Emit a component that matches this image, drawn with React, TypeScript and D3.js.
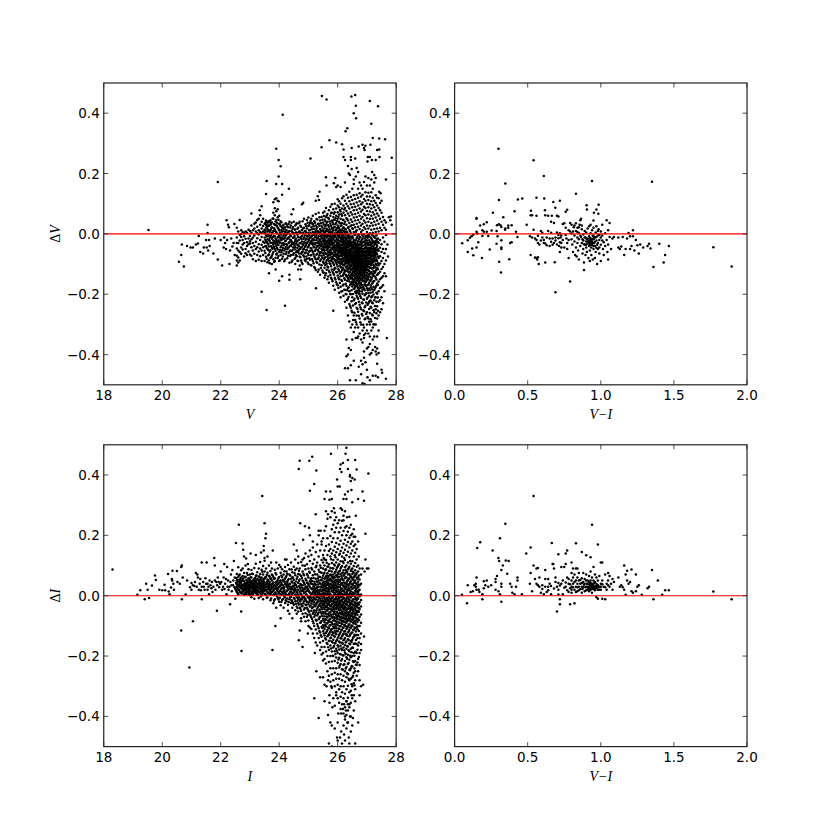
import React from "react";
import * as d3 from "d3";

const xTicksMag = [18, 20, 22, 24, 26, 28];
const xTicksColor = [0, 0.5, 1, 1.5, 2];
const yTicks = [-0.4, -0.2, 0, 0.2, 0.4];

// [V, dV] isolated stars, flat pairs
const vSparse = [19.53,.013,20.57,-.092,20.65,-.07,20.67,-.035,20.74,-.108,20.85,-.04,20.97,-.045,21.05,-.045,21.15,-.035,21.22,-.032,21.25,-.007,21.3,-.06,21.4,-.065,21.42,-.045,21.5,-.02,21.52,-.045,21.55,.03,21.55,.003,21.57,-.055,21.6,-.02,21.62,-.04,21.75,-.065,21.8,-.015,21.9,.172,21.9,-.085,22.0,-.02,22.05,-.105,22.1,-.045,22.15,-.03,22.2,.045,22.25,.03,22.3,-.1,22.12,-.012,22.18,-.05,22.22,-.02,22.28,.022,22.32,-.055,22.36,-.015,22.4,-.042,22.44,-.03,22.47,.033,22.48,-.07,
23.9,.282,23.98,.245,24.05,.224,23.98,.19,24.1,.165,23.9,.165,24.33,.15,23.57,.175,23.55,.132,24.12,.395,24.1,.13,23.85,.115,23.9,.118,23.95,.11,23.8,.105,23.98,.108,23.4,.092,23.33,.078,23.05,.068,24.48,.082,24.78,.098,24.82,.103,25.07,.25,25.38,.14,25.32,.125,25.25,.11,25.36,.112,24.42,.065,
23.4,-.192,23.57,-.252,24.2,-.238,25.26,-.18,25.85,-.255,24.0,-.155,24.1,-.14,24.35,-.135,24.35,-.152,24.72,-.15,24.65,-.118,24.75,-.118,23.88,-.118,23.65,-.13,
25.46,.457,25.62,.445,26.47,.455,26.6,.46,26.62,.425,26.55,.4,26.63,.383,27.1,.44,27.38,.423,27.15,.365,26.27,.34,26.33,.35,25.45,.287,25.72,.31,25.95,.303,26.15,.297,26.2,.28,26.2,.255,26.25,.245,26.48,.285,26.45,.255,26.45,.245,26.6,.25,26.72,.29,26.85,.295,26.9,.285,26.92,.278,26.95,.292,27.12,.295,27.2,.318,27.42,.316,27.62,.314,27.35,.278,27.42,.28,27.03,.255,27.1,.255,27.02,.24,27.17,.245,27.3,.245,27.43,.255,27.85,.252,27.65,.18,27.75,.055,27.8,.045,27.85,.03,27.82,.058,27.7,-.035,27.72,-.075,27.68,-.345,27.65,-.48,25.6,.188,25.62,.16,25.87,.168,25.92,.185,25.95,.155,26.0,.16,26.1,.155,26.25,.17,26.35,.225,26.38,.2,26.42,.195,26.48,.215,26.55,.18,26.62,.19,26.65,.218,26.7,.205,27.18,.205,27.25,.195,27.3,.185,27.42,.14,27.47,.135,27.5,.11,
26.25,-.445,26.35,-.445,26.42,-.485,26.45,-.435,26.55,-.42,26.62,-.485,26.72,-.44,26.85,-.495,26.92,-.497,26.8,-.465,27.0,-.45,27.02,-.475,27.1,-.485,27.2,-.47,27.3,-.47,27.38,-.475,27.5,-.45,27.52,-.46,27.35,-.43,26.8,-.42,26.9,-.41,26.3,-.405,26.35,-.4,26.3,-.35,26.38,-.378,26.45,-.385,26.5,-.35,26.62,-.345,26.68,-.345,26.85,-.36,26.9,-.335,27.0,-.38,27.05,-.375,27.1,-.365,27.2,-.385,27.3,-.39,27.33,-.4,27.4,-.395,27.2,-.35,27.25,-.34,27.35,-.34,26.95,-.425,26.85,-.432,26.9,-.39,27.1,-.4,27.15,-.395,27.28,-.375,27.35,-.38];

// dV lists, one per V column
const vColumns = [
[22.55,[-.03,-.048,-.072,.02,-.105,-.088,-.012]],[22.6,[-.055,-.095,-.03,.008,-.078]],[22.65,[-.022,-.06,.046,-.088,-.004]],[22.7,[-.01,-.045,.0,-.066,.012]],[22.75,[-.035,-.052,.006,-.02]],[22.8,[-.008,.002,-.03,-.075]],[22.85,[-.05,-.016,.008,-.064]],[22.9,[-.028,.004,-.04,-.07]],[22.95,[-.015,-.058,.014,-.034]],[23.0,[-.007,-.032,-.068,.01,-.024]],[23.05,[-.044,-.018,.028,-.072,.004]],[23.1,[-.03,.012,-.055,-.012,-.084]],[23.15,[-.005,-.04,.018,-.066,.034]],[23.2,[-.026,.008,-.05,.038,-.09]],[23.25,[-.014,-.044,.024,-.07,.046,.002]],[23.3,[-.034,.012,-.058,-.002,.05,-.086]],[23.35,[-.02,.03,-.048,.006,-.074,.062]],[23.4,[-.01,-.036,.018,-.09,.04,-.055,.003]],[23.45,[-.026,.026,-.07,.008,-.044,.05]],[23.5,[-.012,.034,-.056,.002,-.09,-.03,.014]],[23.55,[-.04,.02,-.004,-.076,.044,-.024,.03]],[23.6,[-.018,.008,-.05,.036,-.094,-.03,.016]],[23.65,[-.006,-.042,.026,-.068,.042,-.02,-.088]],[23.7,[-.03,.012,-.054,.03,-.01,-.08,.045]],[23.75,[-.016,.022,-.046,-.072,.004,-.1,.038]],[23.8,[-.036,.01,-.06,.05,-.022,-.084,.07]],[23.85,[-.008,.03,-.05,-.028,.062,-.09,.014,.085]],[23.9,[-.04,.006,.046,-.02,-.068,.075,.028]],[23.95,[-.012,.02,-.052,.055,-.034,.082,-.08]],[24.0,[-.026,.012,-.06,.034,-.004,-.09,.06]],[24.05,[-.016,.025,-.044,.002,-.07,.042]],[24.1,[-.032,.008,-.054,.02,-.012,-.082]],[24.15,[-.006,-.038,.016,-.066,.03]],[24.2,[-.024,.006,-.05,-.012,-.085,.022]],[24.25,[-.034,.012,-.06,-.002,.032]],[24.3,[-.014,-.046,.022,-.072,.004]],[24.35,[-.028,.01,-.058,-.096,.04]],[24.4,[-.008,-.04,.028,-.07,-.02]],[24.45,[-.03,.016,-.054,-.088,.006]],[24.5,[-.012,.04,-.064,-.034,.002]],[24.55,[-.044,.014,-.02,-.08,.028,-.1]],[24.6,[-.026,.004,-.056,.035,-.074]],[24.65,[-.01,-.036,.02,-.09,-.06]],[24.7,[-.03,.008,-.05,.04,-.075,-.105]],[24.75,[-.016,.024,-.044,-.066,-.088]],[24.8,[-.034,.004,.042,-.058,-.1]],[24.85,[-.012,-.05,.02,-.076,-.028,.05]],[24.9,[-.04,.01,-.02,-.062,.032,-.09]],[24.95,[-.006,-.03,.046,-.054,-.082,.018]],[25.0,[-.018,.026,-.042,-.07,.004,-.1,.054]],[25.05,[-.032,.012,-.056,.036,-.012,-.086]],[25.1,[-.008,-.048,.022,-.07,.05,-.026,-.105]],[25.15,[-.036,.006,-.016,-.06,.032,-.09,.06]],[25.2,[-.02,.016,-.044,-.074,.042,-.004,-.11]],[25.25,[-.03,.01,-.052,.028,-.01,-.084,.066,-.12]],[25.3,[-.014,.022,-.04,-.066,.048,-.096,.002]],[25.35,[-.026,.006,-.058,.034,-.008,-.078,.07,-.118]],[25.4,[-.038,.016,-.018,-.064,.044,-.09,.002,-.135]],[25.45,[-.01,-.05,.026,-.03,-.072,.056,-.104,.008]],[25.5,[-.022,.012,-.044,.038,-.064,-.092,-.002,-.128,.07]],
[25.55,[-.034,.018,-.012,-.056,.048,-.08,.002,-.112,.074,-.145,-.024]],[25.6,[-.006,-.04,.03,-.066,.056,-.024,-.094,.01,-.13,.086]],[25.65,[-.028,.014,-.05,.04,-.076,-.008,-.108,.066,-.15,-.036]],[25.7,[-.016,.024,-.042,-.062,.05,.004,-.09,-.122,.078,-.03,-.162]],[25.75,[-.036,.008,-.02,-.054,.034,-.07,.06,-.1,-.136,.09,-.004]],[25.8,[-.01,-.046,.02,-.066,.044,-.028,-.084,.07,-.118,.002,-.15,.098]],[25.85,[-.03,.012,-.052,.032,-.016,-.074,.056,-.098,-.13,.082,-.172,-.04]],[25.9,[-.008,-.038,.024,-.06,.046,-.022,-.086,.072,-.112,.002,-.145,.1,-.185]],[25.95,[-.026,.014,-.05,.036,-.07,-.012,-.096,.06,-.126,.084,-.16,-.04]],[26.0,[-.018,.006,-.044,.028,-.064,.05,-.03,-.082,.072,-.108,.094,-.138,-.004,-.17,.115]],[26.05,[-.034,.018,-.056,.04,-.01,-.076,.064,-.096,.088,-.122,-.15,.002,-.195,-.046,.108]],[26.1,[-.014,-.04,.026,-.066,.05,-.024,-.088,.074,-.11,.1,-.14,.006,-.175,-.052,-.21]],[26.15,[-.028,.012,-.05,.036,-.008,-.072,.06,-.094,.084,-.12,.118,-.156,-.036,-.19,-.064,.002]],[26.2,[-.004,-.044,.022,-.062,.046,-.02,-.082,.07,-.104,.094,-.134,-.168,-.03,-.205,.01,-.054,.125]],[26.25,[-.036,.016,-.056,.04,-.012,-.076,.062,-.098,.086,-.124,.11,-.152,-.186,-.024,-.225,-.066,.004]],[26.3,[-.018,.008,-.048,.03,-.068,.052,-.088,.076,-.112,.1,-.14,-.172,-.03,-.2,-.058,.13,-.098,-.245]],[26.35,[-.03,-.006,-.054,.02,-.076,.044,-.094,.068,-.118,.092,-.146,.12,-.18,-.04,-.215,-.064,-.085,-.27]],[26.4,[-.012,-.042,.014,-.06,.036,-.08,.06,-.1,.084,-.128,.108,-.158,-.19,-.024,-.232,-.072,-.09,.14,-.112,-.29]],[26.45,[-.026,.002,-.052,.026,-.07,.048,-.09,.072,-.108,.098,-.136,.122,-.166,-.2,-.038,-.245,-.062,-.12,-.082,-.148,-.31]],[26.5,[-.008,-.036,.018,-.058,.04,-.078,.064,-.096,.088,-.116,.112,-.142,-.174,-.21,-.046,-.26,-.068,-.13,-.088,.15,-.158,-.3]],[26.55,[-.02,.006,-.046,.03,-.066,.054,-.086,.078,-.104,.1,-.124,-.15,.128,-.182,-.22,-.034,-.27,-.074,-.095,-.138,-.115,-.16,-.325,.165]],[26.6,[-.03,-.004,-.056,.022,-.074,.044,-.094,.066,-.112,.09,-.132,.116,-.16,-.192,-.232,-.044,-.285,-.082,-.102,-.145,-.122,-.175,-.31,-.066]],[26.65,[-.014,.012,-.04,.034,-.062,.056,-.084,.08,-.102,.104,-.12,-.142,.13,-.17,-.205,-.245,-.05,-.3,-.072,-.092,-.112,-.155,-.132,-.188,-.27]],[26.7,[-.024,-.002,-.05,.024,-.07,.046,-.09,.07,-.108,.094,-.128,.12,-.15,-.18,-.215,-.258,-.036,-.31,-.06,-.08,-.1,-.118,-.14,-.165,-.34,.15]],[26.75,[-.01,.016,-.038,.038,-.06,.06,-.082,.084,-.1,.108,-.122,-.144,.135,-.172,-.2,-.235,-.05,-.28,-.07,-.09,-.11,-.13,-.155,-.33,-.19,.17]],[26.8,[-.028,.006,-.046,.028,-.068,.05,-.088,.074,-.106,.098,-.126,.124,-.15,-.178,-.212,-.25,-.058,-.3,-.078,-.098,-.116,-.138,-.162,-.35,.16]],[26.85,[-.016,.012,-.04,.034,-.062,.056,-.084,.08,-.104,.104,-.124,-.146,.13,-.17,-.198,-.23,-.05,-.27,-.072,-.094,-.114,-.135,-.32,-.184,.15]],[26.9,[-.026,-.002,-.052,.022,-.074,.044,-.092,.066,-.11,.09,-.13,.116,-.154,-.182,-.218,-.256,-.062,-.31,-.082,-.102,-.12,-.14,-.345,.172]],[26.95,[-.012,.016,-.036,.038,-.058,.062,-.08,.086,-.1,.11,-.122,-.146,.138,-.17,-.2,-.238,-.046,-.28,-.068,-.09,-.112,-.33,-.16,.19]],[27.0,[-.022,.006,-.048,.028,-.068,.052,-.088,.076,-.108,.1,-.128,.124,-.152,-.18,-.215,-.26,-.056,-.3,-.078,-.098,-.118,-.14,-.32,.16]],[27.05,[-.008,.018,-.034,.04,-.056,.064,-.078,.088,-.098,.112,-.12,-.142,.136,-.168,-.196,-.23,-.28,-.046,-.068,-.088,-.11,-.33,-.15,.185]],[27.1,[-.026,.002,-.05,.026,-.07,.05,-.092,.074,-.112,.098,-.132,.124,-.156,-.186,-.222,-.262,-.06,-.3,-.08,-.1,-.34,.16]],[27.15,[-.014,.014,-.038,.036,-.06,.06,-.082,.084,-.104,.108,-.126,-.15,.138,-.178,-.21,-.245,-.07,-.29,-.05,-.092,-.32,.18]],[27.2,[-.024,.004,-.05,.028,-.072,.05,-.094,.072,-.114,.096,-.136,.12,-.162,-.192,-.23,-.27,-.06,-.083,-.31,.15]],[27.25,[-.01,.016,-.036,.04,-.062,.064,-.086,.088,-.108,.11,-.13,-.156,-.186,-.22,-.26,-.048,-.074,-.3,.17]],[27.3,[-.028,.006,-.054,.03,-.078,.054,-.1,.078,-.122,.102,-.146,.128,-.176,-.21,-.25,-.3,-.066,-.09]],[27.35,[-.016,.018,-.04,.044,-.068,.068,-.09,.094,-.112,-.136,.12,-.164,-.198,-.24,-.28,-.055]],[27.4,[-.03,.008,-.056,.034,-.08,.06,-.104,.086,-.13,-.158,-.19,.118,-.225,-.27,-.32]],[27.45,[-.02,.02,-.046,.05,-.074,-.098,.078,-.125,-.15,-.18,.102,-.22,-.26]],[27.5,[-.034,.012,-.06,.04,-.09,-.116,-.145,.07,-.176,-.21,-.25]],[27.55,[-.012,.03,-.05,-.08,.056,-.11,-.14,-.17,-.23]],[27.6,[-.026,.02,-.064,.045,-.1,-.13,-.19]],[27.65,[-.004,.038,-.05,-.088,.014,-.14]]
];

// further dV lists, between the columns above
const vColumnsB = [
[23.525,[-.019,.037,-.063,.011,-.041,.005]],[23.575,[-.047,-.009,.023,-.083,.041,-.027]],[23.625,[.013,-.035,-.071,-.003,.029,-.053]],[23.675,[-.023,.039,-.059,-.013,.007,-.097]],[23.725,[-.041,.017,-.005,-.077,.033,-.029]],[23.775,[.003,-.031,.051,-.067,-.011,-.049]],[23.825,[-.025,.019,-.093,-.043,.033,-.007]],[23.875,[-.057,-.015,.009,.041,-.033,-.079]],[23.925,[.001,-.027,-.065,.027,-.047,.037]],[23.975,[-.037,.017,-.009,-.073,-.021,.047]],[24.025,[-.053,.005,-.029,.031,-.011,-.087]],[24.075,[-.021,-.061,.013,-.039,.039,-.003]],[24.125,[.009,-.047,-.017,-.075,.027,-.031]],[24.175,[-.033,-.001,-.091,-.055,.019,-.015]],[24.225,[-.043,.011,-.023,-.067,.035,-.005]],[24.275,[-.017,-.051,.003,-.081,.025,-.037]],[24.325,[.007,-.029,-.063,-.011,-.045,.033]],[24.375,[-.039,-.003,.021,-.073,-.019,-.055]],[24.425,[-.025,-.057,.009,-.035,-.093,.037]],[24.475,[-.013,.023,-.045,-.069,.001,-.031]],[24.525,[-.051,-.007,-.027,.015,-.083,-.039]],[24.575,[.005,-.033,-.061,.031,-.015,-.071]],[24.625,[-.023,-.047,.017,-.003,-.089,-.037]],[24.675,[-.041,.007,-.019,-.065,.035,-.053]],[24.725,[-.011,-.031,.027,-.077,-.049,.003]],[24.775,[-.025,-.061,.013,-.043,-.007,-.095]],[24.825,[.019,-.037,-.017,-.071,-.051,.001]],[24.875,[-.029,.009,-.063,-.043,-.005,-.085]],[24.925,[-.015,-.053,.025,-.035,-.075,.005]],[24.975,[-.045,-.009,.037,-.027,-.065,-.095]],[25.025,[-.021,.013,-.059,-.037,-.081,.029,-.003]],[25.075,[-.047,-.013,.043,-.071,-.027,.003,-.103]],[25.125,[.015,-.033,-.055,-.005,-.083,.035,-.021]],[25.175,[-.043,-.019,.025,-.067,-.003,-.097,-.029]],[25.225,[-.011,.037,-.057,-.035,-.079,.005,-.113]],[25.275,[-.045,-.021,.017,-.069,-.003,.049,-.093]],[25.325,[-.029,.009,-.053,-.013,-.083,.033,-.039,-.125]],[25.375,[-.047,-.019,.027,-.071,.001,-.101,-.033,.055]],[25.425,[-.007,-.041,.035,-.061,-.025,-.085,.011,-.113]],[25.475,[-.035,-.015,.021,-.055,.047,-.079,-.003,-.121]],
[25.525,[-.027,.007,-.051,-.071,.031,-.015,-.097,.059,-.041,-.129,-.005,-.085]],[25.575,[-.045,-.019,.025,-.063,.005,-.103,-.033,-.077,.043,-.137,-.009]],[25.625,[-.013,-.053,.037,-.029,-.087,.017,-.067,-.043,-.119,.061,-.003,-.099]],[25.675,[-.039,-.021,.009,-.059,-.083,.029,-.005,-.111,-.047,.053,-.141,-.071]],[25.725,[-.025,-.067,.015,-.043,-.097,.041,-.009,-.079,-.127,-.055,.003,-.033]],[25.775,[-.051,-.013,.027,-.077,-.033,-.107,.005,-.061,.069,-.145,-.023,-.089]],[25.825,[-.037,.007,-.063,-.019,-.093,.039,-.049,-.125,-.003,-.079,.015,-.029,-.157]],[25.875,[-.011,-.045,.021,-.069,-.029,-.103,.047,-.055,-.083,-.135,-.005,.067,-.119]],[25.925,[-.057,-.023,.011,-.039,-.091,.033,-.073,-.003,-.115,-.047,-.151,.053,-.065]],[25.975,[-.033,-.077,.003,-.017,-.055,-.101,.043,-.087,-.127,-.041,.019,-.167,-.069]],[26.025,[-.049,-.009,-.071,.023,-.029,-.093,-.059,.009,-.117,-.039,-.145,.057,-.083,-.179,-.021]],[26.075,[-.061,-.025,-.085,.013,-.045,-.105,.035,-.003,-.073,-.131,-.053,-.163,-.035,-.095,.079]],[26.125,[-.037,-.073,.001,-.019,-.057,-.099,.029,-.125,-.047,-.083,-.153,-.011,-.191,-.067,.065,-.111]],[26.175,[-.053,-.015,-.091,.019,-.035,-.069,-.113,.047,-.081,-.139,-.045,-.003,-.171,-.061,-.101,-.025]],[26.225,[-.071,-.027,-.047,.007,-.089,-.119,-.059,.033,-.011,-.147,-.079,-.037,-.103,-.185,-.065,-.129,.081]],[26.275,[-.041,-.083,-.017,-.061,-.109,.015,-.073,-.033,-.135,-.051,-.003,-.165,-.093,-.199,-.045,-.121,-.075]],[26.325,[-.063,-.023,-.095,-.043,.005,-.079,-.123,-.053,-.155,-.011,-.069,-.107,-.035,-.187,-.087,-.141,.049,-.219]],[26.375,[-.073,-.035,-.101,-.015,-.055,-.127,.023,-.087,-.045,-.151,-.065,-.113,-.003,-.177,-.095,-.027,-.209,-.137]],[26.425,[-.049,-.085,-.021,-.115,-.067,-.037,-.143,.009,-.093,-.057,-.169,-.077,-.125,-.009,-.199,-.105,-.239,-.033]],[26.475,[-.069,-.029,-.103,-.051,-.133,-.083,-.015,-.161,.029,-.095,-.041,-.119,-.061,-.187,-.075,-.223,-.147,-.255]],[26.525,[-.077,-.039,-.113,-.059,-.095,-.013,-.137,-.071,-.167,.017,-.049,-.125,-.085,-.199,-.027,-.105,-.237,-.151,-.285]],[26.575,[-.063,-.099,-.025,-.127,-.081,-.045,-.153,-.003,-.107,-.067,-.181,-.091,-.035,-.139,-.215,-.053,-.119,-.261,-.169]],[26.625,[-.087,-.047,-.109,-.021,-.071,-.135,-.059,-.163,.007,-.097,-.037,-.123,-.079,-.197,-.147,-.057,-.229,-.105,-.293]],[26.675,[-.069,-.105,-.031,-.141,-.083,-.055,-.117,-.009,-.175,-.093,-.043,-.129,-.073,-.211,-.153,-.063,-.249,-.099,-.193]],[26.725,[-.093,-.053,-.125,-.017,-.075,-.107,-.145,-.037,-.185,-.065,-.115,-.003,-.087,-.225,-.159,-.045,-.135,-.271,-.197]],[26.775,[-.077,-.033,-.111,-.059,-.133,-.093,-.011,-.165,-.049,-.121,-.083,-.207,-.069,-.147,-.025,-.243,-.101,-.179,-.293]],[26.825,[-.067,-.097,-.041,-.129,-.019,-.081,-.153,-.055,-.109,-.191,-.075,-.139,-.003,-.227,-.091,-.169,-.033,-.265]],[26.875,[-.083,-.051,-.117,-.027,-.143,-.069,-.099,-.177,-.039,-.125,-.059,-.217,-.089,-.157,-.009,-.253,-.107,-.301]],[26.925,[-.061,-.101,-.035,-.127,-.079,-.015,-.167,-.047,-.113,-.203,-.071,-.149,-.091,-.243,-.025,-.135,-.187,-.283]],[26.975,[-.073,-.043,-.105,-.021,-.137,-.065,-.093,-.173,-.031,-.119,-.227,-.055,-.157,-.083,-.265,-.007,-.197,-.111]],[27.025,[-.053,-.091,-.029,-.119,-.071,-.147,-.013,-.103,-.187,-.061,-.131,-.235,-.037,-.169,-.081,-.275,-.005,-.211]],[27.075,[-.079,-.037,-.109,-.059,-.135,-.021,-.163,-.089,-.205,-.047,-.123,-.249,-.067,-.181,-.003,-.291,-.097,-.225]],[27.125,[-.065,-.029,-.099,-.045,-.127,-.077,-.155,-.011,-.195,-.085,-.241,-.055,-.143,-.283,-.035,-.113,-.221,-.171]],[27.175,[-.041,-.089,-.019,-.115,-.061,-.145,-.003,-.183,-.073,-.227,-.031,-.131,-.267,-.097,-.207,-.165]],[27.225,[-.055,-.081,-.027,-.123,-.007,-.103,-.157,-.067,-.201,-.043,-.253,-.139,-.091,-.299,-.175]],[27.275,[-.033,-.071,-.013,-.111,-.049,-.141,-.091,-.181,-.239,-.025,-.127,-.211,-.279,-.059]],[27.325,[-.045,-.085,-.021,-.119,-.151,-.063,-.195,-.005,-.103,-.263,-.035,-.171,-.225]],[27.375,[-.027,-.075,-.051,-.133,-.097,-.015,-.169,-.211,-.117,-.255]]
];

// [I, dI] isolated stars, flat pairs
const iSparse = [18.3,.087,19.15,.003,19.25,.018,19.4,-.012,19.45,.04,19.55,-.008,19.5,.02,19.65,.034,19.75,.067,19.78,.052,19.9,.02,20.0,.018,20.08,.036,20.1,.018,20.2,.072,20.22,.014,20.25,.005,20.3,.027,20.33,.055,20.34,.05,20.35,.083,20.38,.04,20.4,.02,20.5,.082,20.52,.045,20.6,.04,20.65,.095,20.67,.1,20.7,.06,20.65,-.115,20.67,-.012,20.8,.004,20.85,.05,20.95,.028,21.0,.042,21.1,.032,21.05,-.085,20.93,-.238,21.15,.075,21.2,.07,21.22,.06,21.25,.02,21.3,.055,21.35,.11,21.35,.03,21.35,-.012,21.4,.045,21.48,.058,21.52,.11,21.55,.02,21.58,.03,21.6,.005,21.65,.035,21.7,.045,21.72,.012,21.78,.125,21.8,.1,21.82,.02,21.85,.045,21.87,-.05,21.9,.06,21.95,.028,22.0,.08,22.05,.02,22.1,.06,22.12,.105,22.15,.04,22.2,.005,22.22,.095,22.25,.05,22.3,.03,22.32,-.028,22.35,.07,22.38,.015,22.4,.085,22.42,.035,22.45,.115,22.48,.06,22.5,.022,22.5,-.01,
21.0,.02,21.05,.035,21.12,.045,21.18,.03,21.28,.04,21.32,.018,21.42,.03,21.45,.02,21.5,.04,21.55,.04,21.62,.05,21.68,.025,21.75,.03,21.8,.05,21.88,.035,21.93,.045,21.98,.04,22.02,.045,22.08,.03,22.13,.022,22.18,.055,22.23,.03,22.27,.02,22.33,.045,22.37,.035,22.43,.05,22.47,.028,
22.62,.235,22.52,.175,22.75,.173,22.77,.152,22.8,.13,22.87,.123,22.93,.105,23.02,.14,22.7,-.052,22.71,-.183,23.77,-.18,23.87,-.1,23.42,.33,23.5,.24,23.55,.205,23.53,.19,23.47,.165,23.47,.15,23.38,.143,23.2,.135,23.5,.125,23.6,.13,23.78,.15,23.72,.11,23.9,.11,24.05,.095,24.2,.12,24.25,.12,24.05,-.075,24.35,-.06,24.45,-.075,24.67,-.148,24.7,-.115,24.75,-.085,24.8,-.17,24.98,-.125,25.05,-.105,25.22,-.19,25.27,-.25,25.35,-.405,25.2,-.34,25.4,-.27,25.5,-.27,
24.5,.17,24.6,.15,24.65,.13,24.8,.12,24.67,.42,24.7,.447,25.03,.447,25.13,.46,25.27,.415,25.2,.37,25.05,.348,25.6,.345,25.55,.32,25.75,.345,25.72,.318,25.77,.47,25.98,.385,26.0,.362,26.07,.362,26.08,.42,26.1,.435,26.18,.44,26.13,.41,26.35,.45,26.3,.49,26.27,.47,26.35,.42,26.45,.38,26.42,.4,26.5,.39,26.58,.385,26.6,.45,26.65,.418,26.42,.395,26.85,.345,26.9,.315,26.7,.32,27.05,.405,26.95,.205,26.5,.31,26.35,.345,26.25,.335,26.3,.32,26.47,.35,26.2,.32,25.8,.32,
24.72,.24,24.82,.185,24.88,.23,25.02,.225,25.05,.2,25.15,.18,25.25,.27,25.35,.215,25.42,.215,25.45,.18,25.6,.28,25.67,.27,25.65,.255,25.6,.23,25.75,.26,25.8,.28,25.87,.29,25.9,.275,25.95,.26,26.1,.29,26.15,.285,26.25,.28,26.2,.265,26.05,.25,26.32,.26,26.4,.262,26.45,.235,26.62,.265,26.55,.22,26.6,.195,26.7,.18,26.72,.13,26.95,.12,27.0,.09,26.92,.08,26.85,.09,27.05,.09,
25.55,-.35,25.67,-.395,25.72,-.355,25.75,-.42,25.8,-.43,25.82,-.37,25.7,-.49,25.8,-.5,25.9,-.44,25.98,-.47,26.0,-.48,25.55,-.295,25.62,-.3,25.67,-.28,25.72,-.33,25.78,-.3,25.85,-.34,25.9,-.365,25.95,-.33,26.0,-.42,26.02,-.39,26.08,-.47,26.12,-.45,26.15,-.49,26.2,-.43,26.22,-.46,26.25,-.48,26.3,-.44,26.33,-.42,26.38,-.47,26.4,-.49,26.45,-.45,26.5,-.43,26.55,-.38,26.6,-.35,26.6,-.49,26.7,-.42,26.75,-.33,26.8,-.3,26.9,-.135,26.8,-.18,26.87,-.295,26.75,-.28,26.35,-.36,26.18,-.375,26.12,-.39,26.25,-.41,26.28,-.38,26.4,-.37,26.42,-.4,26.3,-.35,26.48,-.33,26.52,-.405,26.22,-.36];

// dI lists, one per I column
const iColumns = [
[22.55,[.03,.05,.012,.072,.038]],[22.6,[.02,.062,.035,.094,.045,.005]],[22.65,[.04,.012,.07,.028,.052]],[22.7,[.025,.084,.046,.008,.032,.06]],[22.75,[.014,.052,.035,.09,.022,.065]],[22.8,[.03,.004,.048,.075,.02,.038]],[22.85,[.042,.018,.062,.028,.1,.008]],[22.9,[.024,.05,.034,.012,.075,.042]],[22.95,[.036,.006,.058,.02,.088,.028,.046]],[23.0,[.016,.044,.03,.07,.002,.052,.024]],[23.05,[.038,.01,.06,.026,.085,.048,-.005]],[23.1,[.022,.05,.034,.012,.072,.042,.004]],[23.15,[.03,.056,.016,.092,.04,.024,-.01]],[23.2,[.044,.008,.066,.028,.05,.018,.106]],[23.25,[.02,.036,.078,.002,.056,.03,.012]],[23.3,[.046,.014,.026,.09,.064,.038,-.008]],[23.35,[.032,.008,.054,.112,.022,.072,.042]],[23.4,[.018,.048,.028,.086,.004,.06,.036]],[23.45,[.04,.012,.07,.024,.098,.052,-.012]],[23.5,[.03,.056,.006,.08,.018,.044,.116]],[23.55,[.02,.062,.038,.002,.09,.028]],[23.6,[.048,.012,.03,.076,.054,-.006]],[23.65,[.024,.066,.008,.04,.1,.032]],[23.7,[.036,.016,.056,.004,.082,-.015]],[23.75,[.028,.05,.012,.07,.038,.09]],[23.8,[.018,.044,.002,.062,.03,-.025]],[23.85,[.034,.058,.01,.086,.022,-.012]],[23.9,[.026,.046,.004,.07,.032,-.04]],[23.95,[.014,.052,.038,.09,-.008,.022]],[24.0,[.03,.008,.062,-.02,.044,.102]],[24.05,[.02,.05,.004,.076,-.032,.036]],[24.1,[.036,.012,.062,-.014,.088,.026]],[24.15,[.024,.048,.002,.07,-.04,.015]],[24.2,[.01,.04,.095,-.006,.056,-.024]],[24.25,[.032,.014,.066,-.018,.08,.046]],[24.3,[.02,.05,.002,.102,-.03,.036,-.05]],[24.35,[.008,.04,.07,-.012,.024,.088]],[24.4,[.03,.056,-.004,.014,.11,-.024]],[24.45,[.044,.01,.078,-.02,.026,-.04,.062]],[24.5,[.018,.052,-.008,.096,.032,-.03]],[24.55,[.004,.038,.068,-.018,.02,-.048,.12,.085]],[24.6,[.028,.056,-.006,.012,.09,-.036,-.06]],[24.65,[.042,.002,.072,-.024,.02,.108,-.052,-.01]],[24.7,[.014,.054,-.014,.03,.09,-.04,.07]],[24.75,[.036,.004,.065,-.028,.015,.112,-.05,-.01,-.075]],[24.8,[.02,.05,-.006,.08,-.034,.035,.1,-.06]],[24.85,[.008,.042,-.018,.068,.024,-.046,.125,-.07,-.005]],[24.9,[.03,.056,-.01,.088,-.03,.012,.14,-.058,-.085]],[24.95,[.016,.044,-.022,.072,.002,.104,-.04,-.07,.03]],[25.0,[.036,-.006,.06,-.028,.018,.09,-.05,.13,-.082,-.1]],[25.05,[.01,.048,-.016,.076,-.036,.028,.115,-.062,-.004,.15]],[25.1,[.024,.058,-.008,.092,-.026,.004,-.05,.135,-.072,.04,-.11]],[25.15,[.038,-.014,.068,.012,-.038,.106,-.06,-.085,.024,.16,-.125]],[25.2,[.004,.046,-.022,.08,.03,-.048,.12,-.07,-.1,.018,-.008,-.14]],[25.25,[.016,.056,-.012,.094,-.03,.036,-.056,.145,-.08,-.112,.002,-.155]],[25.3,[.028,-.004,.07,-.042,.012,.11,-.066,.046,-.094,.17,-.125,-.022,-.165]],[25.35,[.008,.05,-.018,.086,-.034,.03,-.056,.13,-.078,-.108,.064,-.14,-.006,.2]],[25.4,[.02,-.01,.062,-.026,.1,-.046,.04,-.07,.15,-.09,.002,-.122,-.155,.078,-.18]],[25.45,[.032,-.002,.076,-.038,.014,.118,-.06,.052,-.084,-.104,-.02,-.136,.17,-.17,-.195]],[25.5,[.006,.044,-.016,.09,-.032,.026,-.054,.066,-.076,.135,-.098,-.118,-.15,.11,-.19,.19,-.215]],
[25.55,[.018,-.008,.056,-.026,.1,-.044,.036,-.068,.076,-.088,.15,-.11,.002,-.132,.12,-.17,-.21,.215]],[25.6,[.028,.002,.064,-.018,.088,-.038,.046,-.06,.016,-.08,.118,-.102,.165,-.124,-.145,-.185,-.225]],[25.65,[.01,-.012,.04,-.03,.074,-.05,.024,-.072,.096,-.092,.135,-.114,.055,-.134,.19,-.16,-.2,-.25]],[25.7,[.02,-.004,.05,-.024,.082,-.044,.034,-.066,.104,-.086,.148,-.108,.066,-.128,.17,-.15,-.18,-.22,-.265]],[25.75,[.006,-.016,.04,-.036,.07,-.056,.026,-.076,.092,-.098,.13,-.118,.056,-.14,.198,-.165,.155,-.2,-.24,-.285]],[25.8,[.016,-.008,.048,-.028,.08,-.048,.032,-.07,.108,-.09,.14,-.11,.064,-.13,.178,-.152,.22,-.185,-.218,-.26,-.305]],[25.85,[.024,0,.056,-.02,.09,-.04,.038,-.062,.118,-.082,.15,-.102,.07,-.124,.19,-.146,.235,-.172,-.2,-.24,-.28,.012]],[25.9,[.008,-.012,.044,-.032,.076,-.052,.028,-.074,.1,-.094,.134,-.116,.06,-.136,.162,-.158,.21,-.184,-.216,-.255,-.3,.25]],[25.95,[.018,-.004,.052,-.024,.086,-.044,.034,-.066,.11,-.086,.144,-.108,.068,-.128,.175,-.15,.225,-.176,-.205,-.24,-.275,-.32,.012]],[26.0,[.026,.004,.06,-.016,.096,-.036,.042,-.058,.12,-.078,.155,-.098,.076,-.118,.19,-.14,.24,-.164,-.19,-.222,-.26,-.295,-.34]],[26.05,[.012,-.008,.046,-.028,.08,-.048,.03,-.068,.104,-.09,.136,-.11,.062,-.13,.17,-.152,.21,-.178,-.206,-.238,-.275,-.31,-.355]],[26.1,[.02,0,.054,-.02,.09,-.04,.036,-.06,.114,-.08,.148,-.1,.072,-.12,.182,-.142,.225,-.166,-.194,-.226,-.26,-.3,-.335,-.375]],[26.15,[.006,-.014,.042,-.034,.074,-.054,.024,-.074,.098,-.094,.13,-.114,.058,-.134,.16,-.156,.2,-.18,-.21,-.244,-.28,-.32,-.36,.248]],[26.2,[.016,-.006,.05,-.026,.084,-.046,.032,-.066,.108,-.086,.142,-.106,.066,-.126,.172,-.148,.214,-.172,-.198,-.23,-.265,-.3,-.34,-.39,.25]],[26.25,[.024,.002,.058,-.018,.094,-.038,.04,-.058,.118,-.078,.152,-.098,.074,-.118,.185,-.14,.226,-.164,-.188,-.216,-.25,-.285,-.325,-.37,-.4]],[26.3,[.01,-.01,.044,-.03,.078,-.05,.028,-.07,.1,-.09,.134,-.11,.06,-.13,.166,-.152,.2,-.176,-.204,-.236,-.27,-.31,-.35,-.395,.23]],[26.35,[.018,-.002,.052,-.022,.088,-.042,.036,-.062,.11,-.082,.146,-.102,.07,-.122,.178,-.144,.212,-.168,-.196,-.226,-.26,-.298,-.338,-.38,-.42]],[26.4,[.004,-.014,.04,-.034,.072,-.054,.022,-.074,.096,-.094,.128,-.114,.056,-.134,.16,-.158,.192,-.184,-.212,-.245,-.28,-.32,-.36,.225]],[26.45,[.014,-.006,.048,-.026,.082,-.046,.03,-.066,.106,-.086,.14,-.106,.064,-.126,.172,-.15,.2,-.176,-.204,-.24,-.275,-.315,-.355,-.4]],[26.5,[.022,0,.056,-.018,.09,-.04,.038,-.06,.114,-.08,.15,-.1,.072,-.122,.18,-.146,.205,-.172,-.2,-.235,-.27,-.3,-.34]],[26.55,[.006,-.012,.042,-.032,.076,-.052,.026,-.072,.098,-.092,.13,-.114,.06,-.136,.165,-.16,.195,-.19,-.22,-.255,-.29,-.33]],[26.6,[.016,-.004,.05,-.024,.084,-.044,.032,-.064,.108,-.086,.142,-.108,.068,-.132,.17,-.158,-.186,-.216,-.25,-.28,-.31]],[26.65,[.024,.004,.06,-.016,.096,-.036,.04,-.056,.12,-.08,.155,-.104,-.13,.075,-.16,-.19,-.23,-.265]],[26.7,[.01,-.01,.046,-.03,.08,-.05,.028,-.076,.1,-.1,-.13,.06,-.165,-.21,-.25]],[26.75,[.02,-.002,.054,-.022,.09,-.044,-.07,.035,-.1,-.14,-.19,-.23]],[26.8,[.004,-.014,.04,-.036,.07,-.062,-.09,-.125,-.16]]
];

// further dI lists, between the columns above
const iColumnsB = [
[22.525,[.027,.043,.017,.059]],[22.575,[.037,.009,.053,.023]],[22.625,[.019,.047,.031,.067]],[22.675,[.041,.013,.029,.055]],[22.725,[.021,.049,.007,.037]],[22.775,[.033,.057,.015,.027]],[22.825,[.011,.041,.023,.063,.035]],[22.875,[.029,.053,.019,.039,.005]],[22.925,[.047,.013,.031,.069,.025]],[22.975,[.035,.017,.055,.043,.009]],[23.025,[.023,.041,.003,.061,.033]],[23.075,[.045,.015,.029,.073,.037]],[23.125,[.027,.051,.009,.039,.019]],[23.175,[.013,.035,.059,.025,.047]],[23.225,[.031,.007,.043,.067,.021]],[23.275,[.039,.017,.053,.029,.003]],[23.325,[.025,.049,.011,.037,.063]],[23.375,[.015,.033,.057,.023,-.003]],[23.425,[.041,.009,.027,.079,.035]],[23.475,[.021,.047,.015,.033,.055]],[23.525,[.037,.005,.061,.027,.019]],[23.575,[.013,.043,.031,.069,-.007]],[23.625,[.029,.051,.007,.039,.021]],[23.675,[.017,.045,.025,.063]],[23.725,[.033,.009,.057,.023,-.009]],[23.775,[.041,.015,.067,.027]],[23.825,[.005,.035,.055,.021,-.017]],[23.875,[.043,.011,.029,.075]],[23.925,[.019,.047,-.003,.037]],[23.975,[.027,.007,.059,-.013,.041]],[24.025,[.015,.049,.031,-.007]],[24.075,[.043,.003,.023,.067,-.021]],[24.125,[.009,.035,.053,-.011]],[24.175,[.029,.047,-.003,.019,.081]],[24.225,[.037,.005,.061,-.015]],[24.275,[.017,.043,-.009,.027,.073]],[24.325,[.003,.031,.055,-.021]],[24.375,[.039,.013,-.005,.067,.023]],[24.425,[.021,.047,-.015,.003,.087]],[24.475,[.033,.007,-.025,.059]],[24.525,[.013,.041,-.011,.025,.075]],[24.575,[.047,.001,-.027,.035]],[24.625,[.019,.063,-.017,.009,-.041]],[24.675,[.031,-.005,.049,-.029,.083]],[24.725,[.007,.039,-.019,.023,-.043]],[24.775,[.027,.059,-.013,.001,-.035]],[24.825,[.015,.047,-.025,.073,-.005]],[24.875,[.037,-.011,.021,-.041,.099]],[24.925,[.005,.051,-.031,.027,-.017]],[24.975,[.023,-.003,.067,-.045,.041,-.063]],[25.025,[.033,-.021,.013,-.009,.079,-.053]],[25.075,[.001,.041,-.033,.055,-.015,-.067]],[25.125,[.021,-.019,.049,-.041,.007,.087,-.077]],[25.175,[.031,-.005,.059,-.029,-.055,.013,-.091]],[25.225,[.009,.039,-.035,-.013,.071,-.063,.023]],[25.275,[.025,-.027,.047,-.003,-.049,-.083,.099,.011]],[25.325,[.037,-.015,.003,-.061,.057,-.037,-.101,.019]],[25.375,[.013,-.029,.043,-.007,-.073,.079,-.047,-.117]],[25.425,[.027,-.017,.005,-.055,.051,-.035,-.089,.093,-.131]],[25.475,[.039,-.009,.019,-.045,-.067,.059,-.027,-.107,.003]],
[25.525,[.011,-.021,.033,-.039,.073,-.059,-.003,-.081,.047,-.125,.019,-.103,.125,-.029]],[25.575,[.023,-.013,.041,-.033,-.053,.085,-.077,.007,-.097,.059,-.141,-.019,.031]],[25.625,[.003,.035,-.023,-.047,.067,-.069,-.007,-.091,.049,-.119,.015,.109,-.157,-.037]],[25.675,[.015,-.017,.043,-.041,-.061,.097,-.083,.005,-.105,-.029,.061,-.131,.025,-.171]],[25.725,[.029,-.009,-.031,.053,-.055,.013,-.079,.083,-.099,-.021,-.123,.037,-.149,-.067,.003]],[25.775,[.001,.037,-.019,-.045,.069,-.063,.023,-.087,-.011,-.113,.051,-.033,-.139,-.175,.121]],[25.825,[.013,-.027,.045,-.005,-.051,.091,-.073,.027,-.095,-.039,-.121,.059,-.017,-.155,-.199]],[25.875,[.033,-.013,.003,-.035,.063,-.057,-.081,.019,-.107,-.045,.103,-.133,-.023,-.167,.047,-.071]],[25.925,[.005,-.019,.039,-.041,-.061,.079,-.009,-.083,.025,-.101,-.123,-.029,.127,-.157,.051,-.193]],[25.975,[.015,-.031,.047,-.011,-.053,.093,-.075,.001,-.095,-.039,.065,-.117,-.147,-.021,-.183,.029,-.069]],[26.025,[.037,-.003,-.023,.071,-.043,-.065,.019,-.087,-.013,-.109,.053,-.033,-.137,-.169,.101,-.211,.007]],[26.075,[.009,-.017,.029,-.037,-.057,.083,-.079,.003,-.101,-.025,-.125,.049,-.155,-.047,.139,-.193,-.071,-.231]],[26.125,[.023,-.005,-.029,.065,-.049,.013,-.069,-.091,.041,-.113,-.015,-.141,-.035,-.175,.095,-.215,-.059,-.083]],[26.175,[.001,.035,-.021,-.041,.077,-.061,-.083,.017,-.105,-.011,-.129,.053,-.031,-.159,-.197,-.073,.113,-.245]],[26.225,[.013,-.009,.043,-.033,-.053,.069,-.075,.005,-.097,-.023,-.119,-.145,.029,-.043,-.181,.125,-.065,-.227,-.087]],[26.275,[.031,-.015,.003,-.039,.061,-.059,-.079,.021,-.101,-.027,-.127,.085,-.155,-.047,-.193,-.069,-.241,-.089]],[26.325,[.007,-.019,.037,-.045,-.065,.079,-.005,-.085,-.107,-.029,.049,-.133,-.167,-.055,-.209,.015,-.077,-.257]],[26.375,[.025,-.011,-.035,.057,-.057,.003,-.077,-.097,-.021,-.119,.091,-.147,-.043,-.181,.033,-.067,-.223,-.275]],[26.425,[.009,-.023,.045,-.041,-.063,.017,-.083,-.003,-.105,-.129,.067,-.031,-.161,-.051,-.199,.115,-.073,-.247]],[26.475,[.027,-.017,-.037,.061,-.057,.005,-.079,-.099,-.025,-.123,-.153,.039,-.045,-.187,-.067,-.233,.087,-.293]],[26.525,[.011,-.013,.035,-.047,-.069,.053,-.089,-.029,-.113,-.139,.001,-.055,-.173,-.077,-.217,.079,-.265]],[26.575,[.029,-.021,-.041,.065,-.061,.007,-.083,-.105,-.033,-.129,-.159,.045,-.199,-.071,-.241,-.297]],[26.625,[.013,-.027,.041,-.049,-.073,.071,-.095,-.011,-.119,-.147,.023,-.187,-.035,-.229,-.057]],[26.675,[.033,-.007,-.039,-.063,.015,-.087,-.111,.055,-.141,-.179,-.025,-.221,-.053]],[26.725,[.017,-.029,.037,-.053,-.081,.003,-.117,-.155,.067,-.041,-.203]]
];

// [V-I, dV] top-right panel, flat pairs
const colorDV = [.3,.282,.54,.244,.61,.192,.347,.167,.94,.175,1.35,.173,.303,.112,.433,.114,.463,.117,.56,.12,.613,.117,.675,.106,.72,.11,.83,.133,.41,.075,.262,.07,.522,.077,.618,.078,.689,.087,.77,.08,.76,.073,.903,.095,.905,.081,.985,.097,.97,.081,.953,.07,.983,.067,
.15,.053,.15,.05,.175,.028,.2,.032,.22,.039,.333,.055,.303,.032,.29,.029,.315,.028,.32,.023,.347,.018,.367,.028,.39,.029,.367,.02,.345,.014,.287,.01,.253,.011,.22,.007,.19,.012,.2,.007,.15,.007,.155,.001,.128,-.003,.116,-.008,.105,-.013,.09,-.021,.052,-.031,.09,-.06,.12,-.048,.128,-.071,.15,-.045,.162,-.028,.187,-.08,.19,-.007,.23,-.007,.24,-.052,.294,-.008,.287,-.033,.32,-.021,.32,-.045,.32,-.05,.305,-.092,.317,-.128,.374,-.084,.38,-.03,.39,-.028,.42,.007,.43,-.01,.493,.03,
.52,.062,.53,.062,.56,.06,.62,.062,.64,.06,.665,.06,.66,.04,.68,.036,.7,.06,.71,.058,.515,-.008,.52,-.07,.54,.014,.55,-.015,.56,-.02,.57,-.03,.55,-.078,.56,-.08,.565,-.085,.57,-.077,.575,-.1,.58,-.035,.6,-.012,.61,-.02,.62,-.095,.63,-.012,.63,-.038,.65,-.04,.66,.004,.67,-.015,.68,-.03,.685,-.094,.69,-.012,.7,-.035,.7,.005,.72,-.028,.72,-.06,.73,-.005,.74,.033,.75,-.045,.75,.035,.76,.02,.765,-.015,.77,-.05,.78,-.08,.79,-.158,.69,-.193,.59,.01,.6,.004,.61,-.03,.64,.01,.65,-.015,.67,-.036,.71,-.014,.715,-.04,.73,-.045,.74,-.02,.725,-.012,.72,.002,.78,.012,.79,.036,.8,.03,.8,.001,.8,-.018,.805,-.035,.81,-.06,.815,.022,.82,-.005,.82,-.025,.825,-.07,.83,.035,.83,.01,.83,-.045,.835,-.075,.84,.02,.84,-.012,.84,-.03,.845,-.055,.85,.003,.85,-.018,.85,-.085,.855,.03,.86,.045,.865,.05,.86,-.04,.865,-.01,.87,.015,.87,-.03,.875,-.065,.88,-.002,.88,-.022,.88,-.05,.885,-.095,.885,-.12,.89,.01,.89,-.012,.89,-.035,.895,-.07,.9,.005,.9,-.025,.9,-.045,.905,-.06,.91,.018,.91,-.015,.91,-.032,.915,-.08,.92,.025,.92,-.008,.92,-.022,.92,-.04,.925,-.055,.925,-.09,.93,.03,.93,.002,.93,-.016,.93,-.03,.935,-.045,.935,-.07,.94,.012,.94,-.025,.94,-.036,.945,-.006,.945,-.085,.95,.044,.95,.02,.95,-.018,.95,-.05,.955,-.03,.96,-.012,.96,-.04,.96,-.08,.965,.005,.965,-.06,.97,.025,.97,-.022,.975,-.036,.975,-.1,.98,-.005,.98,-.05,.985,.015,.99,-.02,.99,-.065,1.0,-.012,1.0,-.036,1.0,-.09,1.01,.03,1.01,-.005,1.015,-.05,1.02,-.028,1.02,-.07,1.03,.002,1.03,-.04,1.04,.045,1.04,-.02,1.045,-.06,1.05,.012,1.05,-.035,1.05,-.085,1.06,-.01,1.06,.036,1.07,-.05,1.08,-.015,1.09,-.01,
1.12,-.012,1.12,-.045,1.13,-.05,1.14,-.042,1.15,-.01,1.16,-.07,1.17,-.05,1.18,-.015,1.19,.003,1.2,-.008,1.2,-.05,1.21,-.04,1.22,.012,1.22,-.008,1.23,-.055,1.24,-.02,1.25,-.038,1.26,-.065,1.27,-.035,1.29,-.045,1.32,-.04,1.33,-.033,1.34,-.048,1.36,-.11,1.4,-.033,1.43,-.095,1.44,-.07,1.465,-.04,1.77,-.044,1.895,-.108,
.53,-.012,.57,-.006,.59,-.022,.62,-.032,.66,-.026,.69,-.022,.71,-.004,.73,-.03,.76,-.004,.77,-.03,.78,-.02,.79,.008,.81,.008,.82,.028,.84,.006,.85,.022,.86,-.006,.87,.028,.875,-.018,.885,-.034,.895,-.012,.9,-.036,.905,-.018,.915,-.024,.92,-.03,.925,-.014,.925,-.036,.93,-.024,.935,-.022,.935,-.036,.94,-.016,.945,-.03,.95,-.006,.95,-.04,.955,-.012,.96,-.026,.97,-.01,.97,-.046,.98,-.03,.98,.01,.99,-.004,.99,-.045,1.0,.008,1.01,-.022];

// [V-I, dI] bottom-right panel, flat pairs
const colorDI = [.54,.33,.347,.238,.94,.235,.31,.19,.175,.177,.155,.158,.26,.15,.3,.125,.305,.115,.35,.117,.37,.115,.33,.1,.32,.085,.36,.073,.49,.14,.52,.16,.665,.175,.83,.174,.98,.17,.77,.15,.76,.14,.87,.145,.71,.137,.9,.134,.93,.127,1.16,.1,1.35,.085,1.21,.087,1.18,.083,1.24,.07,1.39,.05,.29,.065,.28,.055,.28,.045,.15,.06,.145,.04,.135,.035,.09,.035,.145,.03,.15,.02,.165,.02,.17,.012,.11,.012,.125,.015,.19,.005,.19,-.012,.2,.048,.22,.05,.21,.035,.23,.03,.25,.035,.2,.025,.28,.02,.3,.015,.31,.005,.32,.03,.32,.04,.32,-.02,.085,-.025,.05,.003,.38,.04,.39,.03,.395,.01,.41,.005,.42,.03,.43,.05,.43,.06,.46,.005,.515,.04,.52,.075,.53,.015,.54,.1,.56,.09,.57,.092,.55,.055,.56,.04,.57,.035,.58,.03,.58,.06,.59,.01,.6,.035,.61,.005,.62,.085,.62,.055,.63,.012,.64,.03,.64,.055,.65,.04,.66,.005,.67,.105,.675,.105,.68,.09,.69,.045,.69,.06,.7,-.052,.7,.03,.71,.02,.71,.004,.72,-.012,.72,-.028,.73,.04,.73,.095,.74,.05,.74,.005,.75,.095,.76,.105,.76,.03,.77,.06,.78,.04,.78,.012,.79,.025,.79,-.028,.8,.11,.8,.075,.8,.05,.8,.03,.8,.01,.81,.09,.81,.06,.81,.04,.82,.02,.82,-.025,.82,.07,.83,.09,.83,.05,.83,.03,.84,.09,.84,.06,.84,.04,.84,.015,.85,.03,.85,.05,.85,.075,.86,.022,.86,.04,.87,.058,.87,.03,.87,.01,.88,.075,.88,.045,.88,.028,.89,.015,.89,.04,.89,.055,.9,.03,.9,.05,.9,.07,.91,.02,.91,.04,.91,.05,.92,.015,.92,.03,.92,.045,.92,.065,.93,.02,.93,.035,.93,.05,.93,.08,.94,.01,.94,.028,.94,.04,.94,.06,.95,.022,.95,.035,.95,.05,.95,.095,.96,.018,.96,.03,.96,.045,.96,.07,.97,.025,.97,.04,.97,.06,.97,-.005,.98,.02,.98,.035,.98,.05,.98,-.01,.99,.03,.99,.065,1.0,.04,1.0,.11,1.0,.02,1.01,-.01,1.01,.05,1.01,.11,1.02,.03,1.03,.07,1.03,-.012,1.04,.04,1.04,.02,1.05,.05,1.05,.075,1.06,.03,1.06,.065,1.07,.04,1.08,.055,1.08,.02,1.09,.045,
1.12,.06,1.13,.03,1.14,.035,1.15,.028,1.16,.02,1.17,.07,1.17,.003,1.18,.05,1.19,.04,1.2,.045,1.21,.015,1.22,.01,1.24,.015,1.25,.03,1.26,.035,1.28,.003,1.32,.025,1.33,.03,1.36,-.012,1.42,.003,1.44,.018,1.465,.018,1.77,.014,1.895,-.012,
.6,.022,.62,.03,.64,.018,.66,.032,.68,.024,.71,.042,.72,.034,.75,.026,.76,.044,.77,.018,.78,.055,.79,.038,.8,.02,.81,.028,.82,.045,.83,.012,.84,.028,.85,.018,.86,.052,.87,.042,.875,.022,.885,.036,.895,.028,.9,.018,.905,.04,.91,.03,.915,.025,.92,.038,.925,.024,.93,.042,.935,.03,.94,.022,.945,.036,.95,.028,.955,.042,.96,.025,.97,.033,.98,.028,.99,.02,1.0,.03,1.01,.038,1.03,.028,1.05,.035];

const toPairs = (flat: number[]) => d3.pairs(flat).filter((_, i) => i % 2 === 0);
const fromColumns = (cols: any[]) => cols.flatMap(([x, ys]) => ys.map((y: number) => [x, y]));

const W = 830;
const left1 = 103.75, left2 = 454.6, pw = 292.4;
const top1 = 83, top2 = 444.8, ph = 301.8;

const tickFmt = (t: number) => (t < 0 ? "\u2212" + Math.abs(t).toFixed(1) : t.toFixed(1));
const FONT = "'DejaVu Sans', sans-serif";
const MATH = "'Liberation Serif', serif";

function Panel({ left, top, points, xDomain, xTicks, xFmt, xLabel, yLabel }: any) {
  const x = d3.scaleLinear().domain(xDomain).range([left, left + pw]);
  const y = d3.scaleLinear().domain([-0.5, 0.5]).range([top + ph, top]);
  const clipId = `clip-${Math.round(left)}-${Math.round(top)}`;
  const bottom = top + ph;
  const right = left + pw;
  return (
    <g>
      <clipPath id={clipId}><rect x={left} y={top} width={pw} height={ph} /></clipPath>
      <g clipPath={`url(#${clipId})`}>
        {points.map((p: number[], i: number) => (
          <circle key={i} cx={x(p[0])} cy={y(p[1])} r={1.25} fill="#000" />
        ))}
      </g>
      <line x1={left} x2={right} y1={y(0)} y2={y(0)} stroke="#f00" strokeWidth={1.1} />
      <rect x={left} y={top} width={pw} height={ph} fill="none" stroke="#222" strokeWidth={1.2} />
      {xTicks.map((t: number) => (
        <g key={t}>
          <line x1={x(t)} x2={x(t)} y1={bottom} y2={bottom - 4.5} stroke="#222" strokeWidth={0.8} />
          <line x1={x(t)} x2={x(t)} y1={top} y2={top + 4.5} stroke="#222" strokeWidth={0.8} />
          <text x={x(t)} y={bottom + 15.5} textAnchor="middle" fontFamily={FONT} fontSize={13.5}>{xFmt(t)}</text>
        </g>
      ))}
      {yTicks.map((t) => (
        <g key={t}>
          <line x1={left} x2={left + 4.5} y1={y(t)} y2={y(t)} stroke="#222" strokeWidth={0.8} />
          <line x1={right} x2={right - 4.5} y1={y(t)} y2={y(t)} stroke="#222" strokeWidth={0.8} />
          <text x={left - 4} y={y(t) + 5} textAnchor="end" fontFamily={FONT} fontSize={13.5}>{tickFmt(t)}</text>
        </g>
      ))}
      <text x={(left + right) / 2} y={bottom + 34} textAnchor="middle" fontFamily={MATH} fontSize={14} fontStyle="italic">{xLabel}</text>
      {yLabel && (
        <text transform={`translate(${left - 44},${(top + bottom) / 2}) rotate(-90)`} textAnchor="middle" fontFamily={MATH} fontSize={14}>
          {"\u0394"}<tspan fontStyle="italic">{yLabel}</tspan>
        </text>
      )}
    </g>
  );
}

export default function App() {
  const magFmt = (t: number) => String(t);
  const colFmt = (t: number) => t.toFixed(1);
  const vPts = [...toPairs(vSparse), ...fromColumns(vColumns), ...fromColumns(vColumnsB)];
  const iPts = [...toPairs(iSparse), ...fromColumns(iColumns), ...fromColumns(iColumnsB)];
  return (
    <svg width={W} height={W} viewBox={`0 0 ${W} ${W}`} style={{ position: "absolute", left: 0, top: 0, display: "block", background: "#fff" }}>
      <Panel left={left1} top={top1} points={vPts} xDomain={[18, 28]} xTicks={xTicksMag} xFmt={magFmt} xLabel="V" yLabel="V" />
      <Panel left={left2} top={top1} points={toPairs(colorDV)} xDomain={[0, 2]} xTicks={xTicksColor} xFmt={colFmt} xLabel={"V\u2212I"} />
      <Panel left={left1} top={top2} points={iPts} xDomain={[18, 28]} xTicks={xTicksMag} xFmt={magFmt} xLabel="I" yLabel="I" />
      <Panel left={left2} top={top2} points={toPairs(colorDI)} xDomain={[0, 2]} xTicks={xTicksColor} xFmt={colFmt} xLabel={"V\u2212I"} />
    </svg>
  );
}
